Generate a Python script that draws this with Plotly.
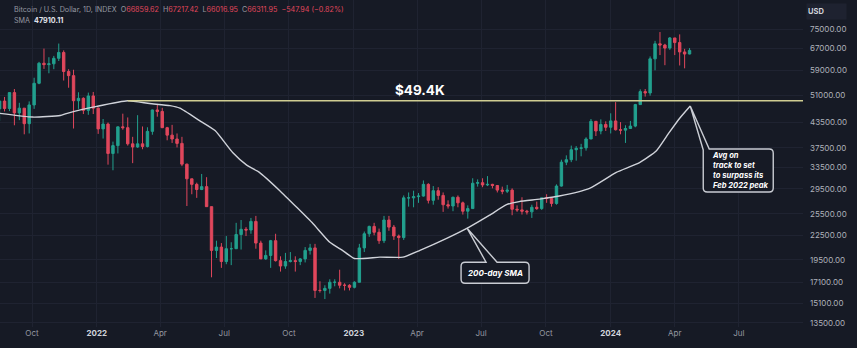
import math
import pandas as pd
import plotly.graph_objects as go

# ---------------- data (weekly candles, USD) ----------------
week_start = "2021-08-16"
opens = [
    47100, 49300, 47200, 51800, 46000, 47300, 43200, 48200, 54700, 61500,
    61000, 61300, 63300, 65500, 58600, 57200, 49400, 50100, 46700, 50800,
    47300, 41900, 43100, 36300, 38000, 42400, 42200, 38400, 37700, 38400,
    37800, 41300, 46800, 46400, 42200, 40400, 39500, 38500, 34100, 31300,
    30300, 29400, 29900, 26600, 20600, 21000, 19300, 20800, 20800, 22600,
    23300, 23200, 24400, 21500, 19600, 20000, 21800, 19400, 18800, 19300,
    19400, 19300, 19600, 20600, 20900, 16300, 16300, 16500, 17100, 17100,
    16800, 16800,
    16600, 17100, 20900, 22700, 23700, 22900, 21800, 24600, 23600, 22400,
    22200, 28000, 28000, 28200, 28300, 30300, 27600, 29200, 28400, 26900,
    26700, 28100, 27200, 25900, 26300, 30500, 30600, 30200, 30300, 30100,
    29300, 29100, 29300, 26200, 26100, 25900, 25800, 26500, 26300, 28000,
    27900, 27100, 30000, 34500, 35000, 37100, 37400, 37500, 39500, 43800,
    41400, 43000,
    42300, 43900, 41700, 41600, 42000, 42600, 48300, 52100, 51700, 63100,
    68900, 68400, 67200, 71300, 69400, 65700, 64900,
]
highs = [
    49400, 50500, 51900, 52900, 48800, 47300, 49200, 56500, 62000, 67000,
    63700, 64200, 69000, 66300, 59400, 59200, 51900, 50400, 51800, 52000,
    47500, 44400, 43500, 38900, 42500, 45800, 44800, 40000, 45400, 42500,
    42300, 46900, 48200, 47400, 42400, 42900, 40800, 40000, 34200, 31300,
    30600, 32200, 31600, 26600, 21800, 21500, 22400, 21600, 24200, 24600,
    23600, 24900, 25200, 21800, 20600, 21900, 22700, 19900, 20300, 20400,
    19900, 19700, 21000, 21400, 21400, 17200, 16800, 17400, 17400, 18400,
    17000, 16900,
    17200, 21400, 23000, 23800, 24200, 23400, 25200, 25200, 23900, 22600,
    28400, 28900, 29200, 28800, 31000, 30500, 30000, 29800, 28900, 27600,
    28200, 28400, 27400, 26800, 31400, 31200, 31400, 31800, 30400, 30100,
    29900, 30200, 29600, 26800, 28100, 26100, 26900, 27400, 28000, 28600,
    28000, 30300, 35000, 35900, 38000, 37900, 38400, 39900, 44400, 43800,
    44300, 43800,
    45900, 49000, 43600, 42800, 43900, 48500, 52800, 52900, 64000, 70100,
    73800, 68900, 71700, 71300, 72800, 66900, 67200,
]
lows = [
    43900, 46400, 46500, 42800, 44100, 40600, 40800, 47100, 54400, 59500,
    58000, 59400, 62300, 55600, 53300, 42000, 47100, 45700, 45500, 45700,
    40700, 39600, 34000, 32900, 36300, 41700, 38000, 34300, 37500, 37200,
    37600, 40500, 45000, 42100, 39200, 38600, 37600, 33700, 26700, 28600,
    28000, 29300, 26600, 17600, 19700, 18600, 19000, 18900, 20800, 20700,
    22400, 22700, 20800, 19900, 19500, 18600, 19300, 18200, 18500, 19200,
    18200, 18900, 19200, 20100, 15600, 16100, 15500, 16000, 16700, 16500,
    16300, 16300,
    16500, 17100, 20400, 22300, 22500, 21400, 21500, 23100, 21900, 19600,
    21900, 26600, 26500, 27200, 28200, 27100, 26900, 27700, 25800, 26300,
    25900, 26500, 25400, 24800, 26300, 29900, 29800, 30000, 29600, 28900,
    28600, 28800, 25300, 25800, 25400, 25400, 24900, 26100, 26100, 27200,
    26600, 26900, 29900, 33900, 34500, 34800, 35700, 36900, 39500, 40200,
    40600, 41400,
    40800, 41500, 40600, 38600, 41900, 42300, 48300, 50600, 50900, 59000,
    64500, 60800, 66500, 64500, 60700, 59700, 64800,
]
closes = [
    49300, 47200, 51800, 46000, 47300, 43200, 48200, 54700, 61500, 61000,
    61300, 63300, 65500, 58600, 57200, 49400, 50100, 46700, 50800, 47300,
    41900, 43100, 36300, 38000, 42400, 42200, 38400, 37700, 38400, 37800,
    41300, 46800, 46400, 42200, 40400, 39500, 38500, 34100, 31300, 30300,
    29400, 29900, 26600, 20600, 21000, 19300, 20800, 20800, 22600, 23300,
    23200, 24400, 21500, 19600, 20000, 21800, 19400, 18800, 19300, 19400,
    19300, 19600, 20600, 20900, 16300, 16300, 16500, 17100, 17100, 16800,
    16800, 16600,
    17100, 20900, 22700, 23700, 22900, 21800, 24600, 23600, 22400, 22200,
    28000, 28000, 28200, 28300, 30300, 27600, 29200, 28400, 26900, 26700,
    28100, 27200, 25900, 26300, 30500, 30600, 30200, 30300, 30100, 29300,
    29100, 29300, 26200, 26100, 25900, 25800, 26500, 26300, 28000, 27900,
    27100, 30000, 34500, 35000, 37100, 37400, 37500, 39500, 43800, 41400,
    43000, 42300,
    43900, 41700, 41600, 42000, 42600, 48300, 52100, 51700, 63100, 68900,
    68400, 67200, 71300, 69400, 65700, 64900, 66300,
]

# 200-day SMA
sma_dates = [
    "2021-08-16", "2021-10-02", "2021-11-10", "2021-11-20", "2022-01-01",
    "2022-02-14", "2022-03-17", "2022-04-15", "2022-04-29", "2022-05-27",
    "2022-06-18", "2022-07-13", "2022-08-02", "2022-08-20", "2022-09-18",
    "2022-10-12", "2022-11-04", "2022-11-28", "2022-12-16", "2023-01-02",
    "2023-02-07", "2023-03-12", "2023-04-05", "2023-05-13", "2023-06-14",
    "2023-07-13", "2023-08-06", "2023-08-24", "2023-09-22", "2023-10-20",
    "2023-12-02", "2024-01-09", "2024-02-11", "2024-03-06", "2024-03-24",
    "2024-04-08", "2024-04-23",
]
sma_values = [
    45900, 44900, 45300, 45900, 47800,
    49400, 48600, 48000, 47300, 44000,
    41500, 36500, 33900, 32500, 29200,
    26500, 24100, 21600, 20600, 19650,
    19800, 19800, 20600, 22100, 23600,
    25300, 26900, 27400, 27800, 28300,
    29600, 32500, 34400, 36900, 41000,
    44600, 47910,
]

level_value = 49400
level_start = "2022-02-14"
level_label = "$49.4K"
sma_note_date = "2023-06-11"
sma_note_value = 23450

header_name = "Bitcoin / U.S. Dollar, 1D, INDEX"
header_o, header_h, header_l, header_c = "66859.62", "67217.42", "66016.95", "66311.95"
header_chg = "−547.94 (−0.82%)"
sma_label_value = "47910.11"

price_ticks = [13500, 15100, 17100, 19500, 22500, 25500, 29500, 33500,
               37500, 43500, 51000, 59000, 67000, 75000]
time_ticks = ["2021-10-01", "2022-01-01", "2022-04-01", "2022-07-01", "2022-10-01",
              "2023-01-01", "2023-04-01", "2023-07-01", "2023-10-01", "2024-01-01",
              "2024-04-01", "2024-07-01"]
time_labels = ["Oct", "2022", "Apr", "Jul", "Oct", "2023", "Apr", "Jul", "Oct",
               "2024", "Apr", "Jul"]

# ---------------- styling ----------------
BG = "#161a25"
GRID = "#1f2331"
TXT = "#9598a1"
UP = "#22a08e"
DOWN = "#e0475c"
FONT = "Inter, Liberation Sans, Arial, sans-serif"

W, H = 857, 348
ML, MR, MT, MB = 0, 54, 0, 21
PW, PH = W - ML - MR, H - MT - MB

dates = pd.date_range(week_start, periods=len(closes), freq="7D")

px_per_day = 0.704
x_start = pd.Timestamp("2021-10-01") - pd.Timedelta(days=32 / px_per_day)
x_end = x_start + pd.Timedelta(days=PW / px_per_day)
y_top = 4.9494
y_bot = 4.1194

fig = go.Figure()
fig.add_trace(go.Candlestick(
    x=dates, open=opens, high=highs, low=lows, close=closes,
    increasing=dict(line=dict(color=UP, width=1), fillcolor=UP),
    decreasing=dict(line=dict(color=DOWN, width=1), fillcolor=DOWN),
    whiskerwidth=0, hoverinfo="skip", showlegend=False,
))
fig.add_trace(go.Scatter(
    x=pd.to_datetime(sma_dates), y=sma_values, mode="lines",
    line=dict(color="#d0d3da", width=1.4, shape="spline", smoothing=0.5),
    hoverinfo="skip", showlegend=False,
))
fig.add_trace(go.Scatter(
    x=[pd.Timestamp(level_start), x_end], y=[level_value, level_value], mode="lines",
    line=dict(color="#d0cd92", width=1.6), hoverinfo="skip", showlegend=False,
))

ticktext = [f"<b><span style='color:#d1d4dc'>{t}</span></b>" if t.isdigit() else t
            for t in time_labels]

fig.update_layout(
    width=W, height=H,
    margin=dict(l=ML, r=MR, t=MT, b=MB, pad=0),
    paper_bgcolor=BG, plot_bgcolor=BG,
    font=dict(family=FONT, color=TXT, size=8),
    showlegend=False,
    xaxis=dict(
        type="date", range=[x_start, x_end], rangeslider=dict(visible=False),
        tickmode="array", tickvals=pd.to_datetime(time_ticks), ticktext=ticktext,
        showgrid=True, gridcolor=GRID, gridwidth=1, zeroline=False,
        showline=False, ticks="", tickfont=dict(size=8, color=TXT),
    ),
    yaxis=dict(
        type="log", range=[y_bot, y_top], side="right",
        tickmode="array", tickvals=price_ticks,
        ticktext=[f"{v:.2f}" for v in price_ticks],
        showgrid=True, gridcolor=GRID, gridwidth=1, zeroline=False,
        showline=False, ticks="", ticklabelstandoff=6,
        tickfont=dict(size=8, color="#aeb1ba"),
    ),
)

# header texts
red = DOWN
head = (f"{header_name}&nbsp;&nbsp;O<span style='color:{red}'>{header_o}</span>"
        f"&nbsp;&nbsp;H<span style='color:{red}'>{header_h}</span>"
        f"&nbsp;&nbsp;L<span style='color:{red}'>{header_l}</span>"
        f"&nbsp;&nbsp;C<span style='color:{red}'>{header_c}</span>"
        f"&nbsp;&nbsp;<span style='color:{red}'>{header_chg}</span>")
fig.add_annotation(xref="paper", yref="paper", x=12 / PW, y=1 - 9.5 / PH,
                   xanchor="left", yanchor="middle", text=head, showarrow=False,
                   font=dict(size=7.2, color=TXT, family=FONT))
fig.add_annotation(xref="paper", yref="paper", x=12 / PW, y=1 - 20.5 / PH,
                   xanchor="left", yanchor="middle",
                   text=f"SMA&nbsp;&nbsp;<b><span style='color:#e0e3eb'>{sma_label_value}</span></b>",
                   showarrow=False, font=dict(size=7.2, color=TXT, family=FONT))

# USD box
fig.add_annotation(xref="paper", yref="paper", x=1, y=1, xshift=3, yshift=-3,
                   xanchor="left", yanchor="top", text="<b>USD</b>", showarrow=False,
                   width=37, height=13, align="left", bgcolor="#1e2230",
                   font=dict(size=7.5, color="#d1d4dc", family=FONT))

# level label
mid_date = pd.Timestamp("2023-04-05")
fig.add_annotation(x=mid_date, y=math.log10(level_value), xanchor="center",
                   yanchor="bottom", yshift=1, text=f"<b>{level_label}</b>",
                   showarrow=False, font=dict(size=13.5, color="#ffffff", family=FONT))

# callout shapes (pixel-sized, anchored at the SMA points)
callout_line = dict(color="#c9ccd3", width=1.4)
sma_path = ("M 0,0 L 30,-34 L 58,-34 Q 62,-34 62,-38 L 62,-51 Q 62,-55 58,-55 "
            "L -2,-55 Q -6,-55 -6,-51 L -6,-38 Q -6,-34 -2,-34 L 19,-34 Z")
fig.add_shape(type="path", xref="x", yref="y", xsizemode="pixel", ysizemode="pixel",
              xanchor=sma_note_date, yanchor=sma_note_value, path=sma_path,
              line=callout_line, fillcolor=BG)
avg_path = ("M 0,0 L 19,-43 L 79,-43 Q 83,-43 83,-47 L 83,-82 Q 83,-86 79,-86 "
            "L 17,-86 Q 13,-86 13,-82 L 13,-44 Z")
fig.add_shape(type="path", xref="x", yref="y", xsizemode="pixel", ysizemode="pixel",
              xanchor=sma_dates[-1], yanchor=sma_values[-1], path=avg_path,
              line=callout_line, fillcolor=BG)

fig.add_annotation(x=pd.Timestamp(sma_note_date), y=math.log10(sma_note_value),
                   xshift=28, yshift=-44.5, xanchor="center", yanchor="middle",
                   text="<b><i>200-day SMA</i></b>", showarrow=False,
                   font=dict(size=8, color="#ffffff", family=FONT))
fig.add_annotation(x=pd.Timestamp(sma_dates[-1]), y=math.log10(sma_values[-1]),
                   xshift=20, yshift=-64.5, xanchor="left", yanchor="middle", align="left",
                   text="<b><i>Avg on<br>track to set<br>to surpass its<br>Feb 2022 peak</i></b>",
                   showarrow=False, font=dict(size=7.6, color="#ffffff", family=FONT))

fig.write_html("out.html", config={"displayModeBar": False})
